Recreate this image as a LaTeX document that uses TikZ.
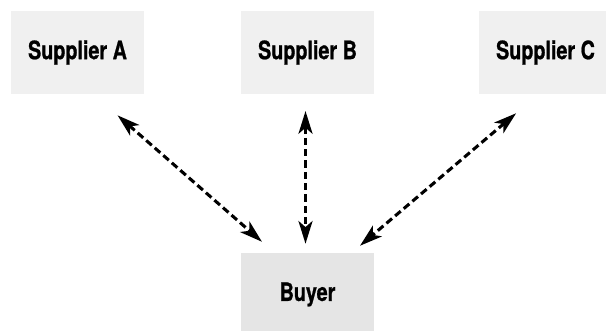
\documentclass[tikz,border=0pt]{standalone}
\usepackage{fontspec}
\setmainfont[FakeStretch=0.78, BoldFeatures={FakeBold=0.8}]{TeX Gyre Heros}
\usetikzlibrary{arrows.meta}
\definecolor{boxgray}{HTML}{F0F0F0}
\definecolor{buyergray}{HTML}{E5E5E5}
\tikzset{
  every picture/.style={font=\fontsize{19}{22}\selectfont\bfseries, line join=round},
  party/.style={fill=boxgray, minimum width=99.75pt, minimum height=62.25pt, inner sep=0pt},
  link/.style={line width=2.3pt, dash pattern=on 5.5pt off 3pt,
    {Stealth[length=17pt,width=10.5pt,inset=4.5pt]}-{Stealth[length=17pt,width=10.5pt,inset=4.5pt]}},
}

\begin{document}
\begin{tikzpicture}[x=0.75pt,y=-0.75pt]
\useasboundingbox (0,0) rectangle (606,331);
\clip (0,0) rectangle (606,331);
\node[party] (supA) at (77.5,52.5) {Supplier A};
\node[party] (supB) at (307.5,52.5) {Supplier B};
\node[party] (supC) at (545.5,52.5) {Supplier C};
\node[party, fill=buyergray] (buyer) at (307.5,294.5) {Buyer};
\draw[link, shorten <=24pt, shorten >=12.5pt] ([xshift=12pt]supA.south) -- ([xshift=-24.75pt]buyer.north);
\draw[link, shorten <=12.6pt, shorten >=6.75pt] ([xshift=-1.5pt]supB.south) -- ([xshift=-1.5pt]buyer.north);
\draw[link, shorten <=22pt, shorten >=8.1pt] ([xshift=-5.25pt]supC.south) -- ([xshift=33.2pt]buyer.north);
\end{tikzpicture}
\end{document}
